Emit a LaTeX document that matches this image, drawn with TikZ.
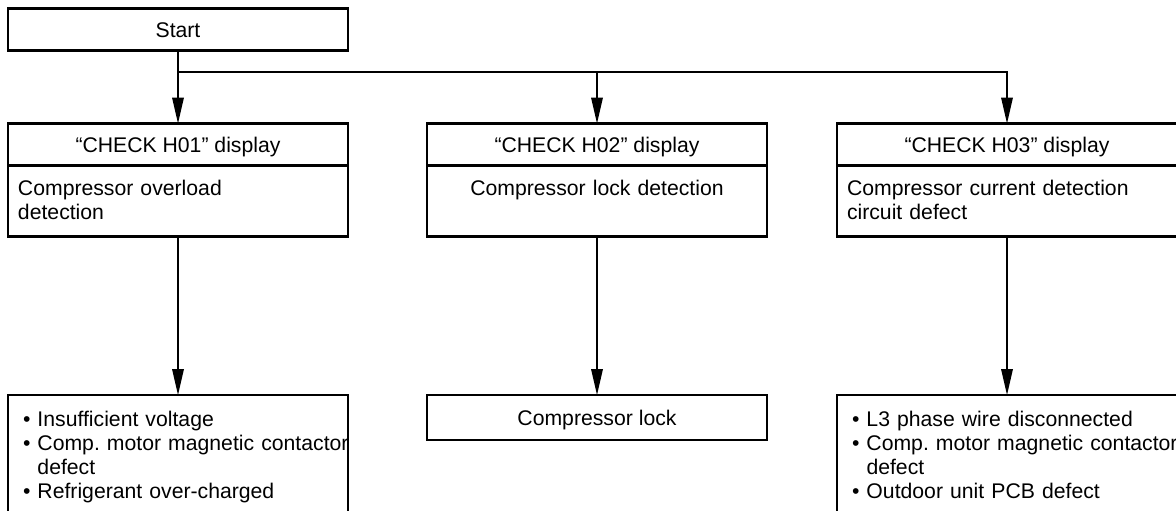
\documentclass[tikz,border=0pt]{standalone}
\usepackage{fontspec}
\setmainfont{Liberation Sans}
\usetikzlibrary{arrows.meta,positioning}
\def\bul{\textbullet\ }
\def\ind{\hphantom{\textbullet\ }}
\def\comp{Comp.\ motor magnetic contactor}

\begin{document}
\begin{tikzpicture}[x=0.5pt,y=-0.5pt,>={Triangle[length=13pt,width=5.8pt]},font=\fontsize{10.6}{12}\selectfont,inner sep=0pt,outer sep=0pt,
    box/.style={draw,line width=1.3pt,minimum width=170pt},
    head/.style={box,minimum height=21pt,text height=7.6pt,text depth=0pt},
    body/.style={box,text width=160pt,inner xsep=5pt,inner ysep=7.2pt,text height=8pt,text depth=#1,align=left},
    body/.default=13.2pt,
    cause/.style={body=50pt,text width=155pt,inner xsep=7.5pt,inner ysep=7.6pt,anchor=north},
    line/.style={line width=0.7pt}]
    \useasboundingbox (0,0) rectangle (1176,510);

    \node[head] (start) at (178,29.5) {Start};
    \coordinate (split) at (178,72);

    \node[head] (h01) at (178,144.5) {“CHECK H01” display};
    \node[body,below=0pt of h01] (det01) {Compressor overload\\detection};
    \node[cause] (cause01) at (178,395) {\bul Insufficient voltage\\\mbox{\bul\comp}\\\ind defect\\\bul Refrigerant over-charged};

    \node[head] (h02) at (597,144.5) {“CHECK H02” display};
    \node[body,align=center,below=0pt of h02] (det02) {Compressor lock detection};
    \node[head,minimum height=22.5pt,anchor=north] (lock) at (597,395) {Compressor lock};

    \node[head] (h03) at (1007,144.5) {“CHECK H03” display};
    \node[body,below=0pt of h03] (det03) {Compressor current detection\\circuit defect};
    \node[cause] (cause03) at (1007,395) {\bul L3 phase wire disconnected\\\mbox{\bul\comp}\\\ind defect\\\bul Outdoor unit PCB defect};

    \draw[line,->] (start) -- (h01);
    \draw[line,->] (split) -| (h03);
    \draw[line,->] (split -| h02) -- (h02);

    \draw[line,->] (det01) -- (cause01);
    \draw[line,->] (det02) -- (lock);
    \draw[line,->] (det03) -- (cause03);
\end{tikzpicture}
\end{document}
